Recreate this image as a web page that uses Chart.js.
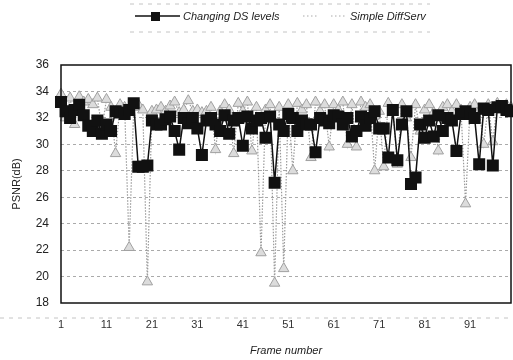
<!DOCTYPE html>
<html>
<head>
<meta charset="utf-8">
<script src="https://cdn.jsdelivr.net/npm/chart.js@4.4.1/dist/chart.umd.min.js"></script>
<style>
  html, body { margin: 0; padding: 0; background: #fff; }
  #wrap { width: 513px; height: 360px; position: relative; }
</style>
</head>
<body>
<div id="wrap"><canvas id="psnrChart" width="513" height="360"></canvas></div>
<script>
// frame numbers on the x axis
const frames = Array.from({ length: 100 }, (_, i) => String(i + 1));
const tickLabels = ["1", "11", "21", "31", "41", "51", "61", "71", "81", "91"];
const yTicks = [18, 20, 22, 24, 26, 28, 30, 32, 34, 36];

// PSNR values (dB)
const changingDS = [
    33.2, 32.5, 32.0, 32.6, 33.0, 32.2, 31.4, 31.0, 31.8, 30.8,
    31.5, 31.0, 32.5, 32.4, 32.3, 32.6, 33.1, 28.3, 28.3, 28.4,
    31.8, 31.5, 31.5, 31.9, 32.1, 31.0, 29.6, 32.0, 31.6, 32.0,
    31.2, 29.2, 31.8, 32.0, 31.5, 31.0, 32.2, 30.8, 31.8, 32.0,
    29.9, 32.1, 31.2, 31.8, 32.0, 30.5, 32.1, 27.1, 31.5, 31.0,
    32.3, 32.0, 31.0, 31.8, 31.5, 31.5, 29.4, 32.0, 31.8, 31.6,
    32.2, 32.1, 31.5, 32.0, 30.6, 31.0, 32.1, 31.4, 32.0, 32.5,
    31.2, 31.2, 29.0, 32.6, 28.8, 31.5, 32.5, 27.0, 27.5, 31.5,
    30.5, 31.8, 30.6, 32.2, 31.0, 32.0, 31.8, 29.5, 32.3, 32.5,
    32.3, 32.0, 28.5, 32.7, 32.6, 28.4, 32.8, 32.9, 32.6, 32.5
];
const simpleDiffServ = [
    33.8, 32.0, 33.5, 31.5, 33.6, 33.2, 33.4, 33.0, 33.5, 31.2,
    33.4, 32.8, 29.3, 33.0, 32.8, 22.2, 32.8, 33.0, 32.6, 19.6,
    32.5, 32.6, 32.8, 32.5, 32.9, 33.2, 32.4, 32.6, 33.3, 32.5,
    32.6, 32.4, 32.5, 32.8, 29.6, 32.5, 33.0, 32.6, 29.3, 33.1,
    32.5, 33.2, 29.5, 32.8, 21.8, 32.6, 33.0, 19.5, 32.8, 20.6,
    33.0, 28.0, 33.1, 32.6, 33.0, 29.0, 33.2, 32.5, 33.0, 29.8,
    33.0, 32.6, 33.2, 30.0, 33.0, 29.8, 33.2, 32.8, 33.0, 28.0,
    32.5, 28.3, 33.1, 32.6, 28.5, 33.0, 32.0, 29.0, 33.0, 31.0,
    32.6, 33.0, 32.4, 29.5, 32.8, 33.0, 32.5, 33.0, 32.6, 25.5,
    32.8, 33.0, 32.5, 30.0, 33.0, 30.2, 33.1, 32.6, 33.0, 32.8
];

const FONT = '"Liberation Sans", Arial, sans-serif';

// box round the plot, legend and the faint scan lines
const extras = {
    id: "extras",
    afterDatasetsDraw(chart) {
        const { ctx, chartArea: a } = chart;
        ctx.save();
        ctx.strokeStyle = "#111";
        ctx.lineWidth = 1.5;
        ctx.strokeRect(a.left, a.top, a.right - a.left, a.bottom - a.top);
        ctx.restore();
    },
    afterDraw(chart) {
        const ctx = chart.ctx;
        ctx.save();
        // faint dashed lines from the scan
        ctx.strokeStyle = "#c4c4c4";
        ctx.lineWidth = 1;
        ctx.setLineDash([4, 5]);
        ctx.beginPath();
        ctx.moveTo(130, 4); ctx.lineTo(430, 4);
        ctx.moveTo(130, 32); ctx.lineTo(430, 32);
        ctx.moveTo(0, 318); ctx.lineTo(513, 318);
        ctx.stroke();

        // legend
        ctx.setLineDash([]);
        ctx.strokeStyle = "#111";
        ctx.lineWidth = 1.5;
        ctx.beginPath();
        ctx.moveTo(135, 16); ctx.lineTo(180, 16);
        ctx.stroke();
        ctx.fillStyle = "#111";
        ctx.fillRect(151, 12, 9, 9);

        ctx.strokeStyle = "#aaa";
        ctx.lineWidth = 1;
        ctx.setLineDash([1.5, 2.5]);
        ctx.beginPath();
        ctx.moveTo(303, 16); ctx.lineTo(319, 16);
        ctx.moveTo(331, 16); ctx.lineTo(345, 16);
        ctx.stroke();

        ctx.fillStyle = "#222";
        ctx.font = "italic 11px " + FONT;
        ctx.textBaseline = "middle";
        ctx.fillText("Changing DS levels", 183, 17);
        ctx.fillText("Simple DiffServ", 350, 17);
        ctx.restore();
    }
};

new Chart(document.getElementById("psnrChart"), {
    type: "line",
    data: {
        labels: frames,
        datasets: [
            {
                label: "Changing DS levels",
                data: changingDS,
                borderColor: "#111",
                borderWidth: 1.5,
                pointStyle: "rect",
                pointRadius: 8.5,
                pointBackgroundColor: "#111",
                pointBorderColor: "#111",
                pointBorderWidth: 0,
                tension: 0,
            },
            {
                label: "Simple DiffServ",
                data: simpleDiffServ,
                borderColor: "#9a9a9a",
                borderWidth: 1.2,
                borderDash: [1.5, 1.5],
                pointStyle: "triangle",
                pointRadius: 6,
                pointBackgroundColor: "#dcdcdc",
                pointBorderColor: "#a0a0a0",
                pointBorderWidth: 1,
                tension: 0,
            },
        ],
    },
    options: {
        responsive: false,
        animation: false,
        layout: { autoPadding: false, padding: { top: 65, right: 2, left: 0, bottom: 0 } },
        plugins: { legend: { display: false }, tooltip: { enabled: false } },
        scales: {
            x: {
                type: "category",
                offset: false,
                grid: { display: false, drawTicks: false },
                border: { display: false },
                afterFit: (s) => {
                    s.height = 57;
                    s.paddingLeft = 0;
                    s.paddingRight = 0;
                },
                ticks: {
                    autoSkip: false,
                    maxRotation: 0,
                    padding: 15,
                    color: "#333",
                    font: { family: FONT, size: 11 },
                    callback: (v, i) => (tickLabels.includes(frames[i]) ? frames[i] : ""),
                },
                title: {
                    display: true,
                    text: "Frame number",
                    color: "#222",
                    font: { family: FONT, size: 11, style: "italic" },
                    padding: { top: 0, bottom: 2 },
                },
            },
            y: {
                min: 18,
                max: 36,
                afterFit: (s) => {
                    s.width = 61;
                    s.paddingTop = 0;
                    s.paddingBottom = 0;
                },
                afterBuildTicks: (s) => { s.ticks = yTicks.map((v) => ({ value: v })); },
                grid: {
                    drawTicks: false,
                    color: (c) => (c.tick && (c.tick.value === 18 || c.tick.value === 36) ? "rgba(0,0,0,0)" : "#aaa"),
                },
                border: { display: false, dash: [3, 3] },
                ticks: {
                    padding: 12,
                    color: "#222",
                    font: { family: FONT, size: 12 },
                },
                title: {
                    display: true,
                    text: "PSNR(dB)",
                    color: "#222",
                    font: { family: FONT, size: 11 },
                    padding: { top: 10, bottom: 0 },
                },
            },
        },
    },
    plugins: [extras],
});
</script>
</body>
</html>
